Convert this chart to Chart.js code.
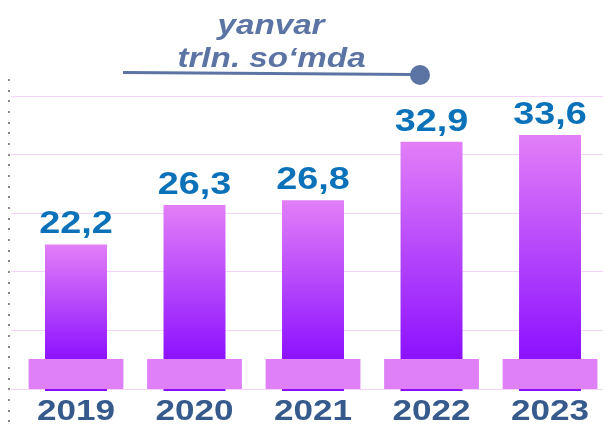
<!DOCTYPE html>
<html><head><meta charset="utf-8">
<script src="https://cdn.jsdelivr.net/npm/chart.js@4.4.1/dist/chart.umd.min.js"></script>
<style>html,body{margin:0;padding:0;background:#fff;overflow:hidden}canvas{display:block}</style>
</head><body>
<canvas id="c" width="603" height="424"></canvas>
<script>
// ---- data ----
const years = ['2019', '2020', '2021', '2022', '2023'];
const values = [22.2, 26.3, 26.8, 32.9, 33.6];
const valueLabels = ['22,2', '26,3', '26,8', '32,9', '33,6'];
const titleLines = ['yanvar', 'trln. so‘mda'];
const yMin = 7.15, yMax = 37.65, yStep = 6.1;
const bandTop = 10.27;

const FONT = '"Liberation Sans", Arial, sans-serif';

function stretchText(ctx, text, x, y, sx) {
  ctx.save();
  ctx.translate(x, y);
  ctx.scale(sx, 1);
  ctx.textAlign = 'center';
  ctx.textBaseline = 'alphabetic';
  ctx.fillText(text, 0, 0);
  ctx.restore();
}

const decor = {
  id: 'decor',
  afterDatasetsDraw(chart) {
    const ctx = chart.ctx;
    const meta = chart.getDatasetMeta(1);
    ctx.save();
    ctx.fillStyle = '#0b72b9';
    ctx.font = 'bold 31px ' + FONT;
    meta.data.forEach((el, i) => {
      stretchText(ctx, valueLabels[i], el.x, el.y - 11, 1.22);
    });
    ctx.restore();
  },
  afterDraw(chart) {
    const ctx = chart.ctx;
    ctx.save();
    // dotted left line
    ctx.fillStyle = '#8a8a8a';
    for (let y = 80; y < 424; y += 10.67) ctx.fillRect(8, Math.round(y) - 1, 2, 2);
    // year labels
    ctx.fillStyle = '#375a8c';
    ctx.font = 'bold 30px ' + FONT;
    years.forEach((yr, i) => {
      stretchText(ctx, yr, chart.scales.x.getPixelForValue(i), 420, 1.17);
    });
    // title
    ctx.fillStyle = '#5b74a4';
    ctx.font = 'italic bold 27px ' + FONT;
    stretchText(ctx, titleLines[0], 271, 33.5, 1.23);
    stretchText(ctx, titleLines[1], 271.5, 66.5, 1.23);
    // underline + knob
    ctx.strokeStyle = '#5b74a4';
    ctx.lineWidth = 3;
    ctx.beginPath();
    ctx.moveTo(123, 72.5);
    ctx.lineTo(414, 74.5);
    ctx.stroke();
    ctx.beginPath();
    ctx.arc(420, 75, 10, 0, Math.PI * 2);
    ctx.fill();
    ctx.restore();
  }
};

new Chart(document.getElementById('c'), {
  type: 'bar',
  data: {
    datasets: [
      {
        label: 'base',
        order: 0,
        grouped: false,
        data: years.map((_, i) => ({ x: i, y: [yMin, bandTop] })),
        backgroundColor: '#e080f8',
        borderWidth: 0,
        categoryPercentage: 1,
        barPercentage: 0.80
      },
      {
        label: 'trln. so‘mda',
        order: 1,
        grouped: false,
        base: yMin - 0.21,
        clip: 3,
        data: values.map((v, i) => ({ x: i, y: v })),
        backgroundColor: (c) => {
          const chart = c.chart;
          const area = chart.chartArea;
          if (!area || !c.parsed) return '#b040ff';
          const top = chart.scales.y.getPixelForValue(c.parsed.y);
          const g = chart.ctx.createLinearGradient(0, top, 0, area.bottom - 25);
          g.addColorStop(0, '#e27ff7');
          g.addColorStop(1, '#8a0eff');
          return g;
        },
        borderWidth: 0,
        categoryPercentage: 1,
        barPercentage: 0.523
      }
    ]
  },
  options: {
    responsive: false,
    animation: false,
    devicePixelRatio: 1,
    layout: { padding: { left: 11, right: 0, top: 96, bottom: 35 } },
    plugins: { legend: { display: false }, tooltip: { enabled: false }, title: { display: false } },
    scales: {
      x: {
        type: 'linear',
        display: false,
        offset: false,
        min: -0.5485,
        max: 4.447,
        afterBuildTicks: (axis) => { axis.ticks = years.map((_, i) => ({ value: i })); }
      },
      y: {
        type: 'linear',
        min: yMin,
        max: yMax,
        afterBuildTicks: (axis) => {
          const t = [];
          for (let k = 0; k <= 5; k++) t.push({ value: yMin + k * yStep });
          axis.ticks = t;
        },
        afterFit: (axis) => { axis.width = 0; },
        ticks: { display: false },
        border: { display: false },
        grid: { color: '#f5d3fa', lineWidth: 1, drawTicks: false }
      }
    }
  },
  plugins: [decor]
});
</script>
</body></html>
